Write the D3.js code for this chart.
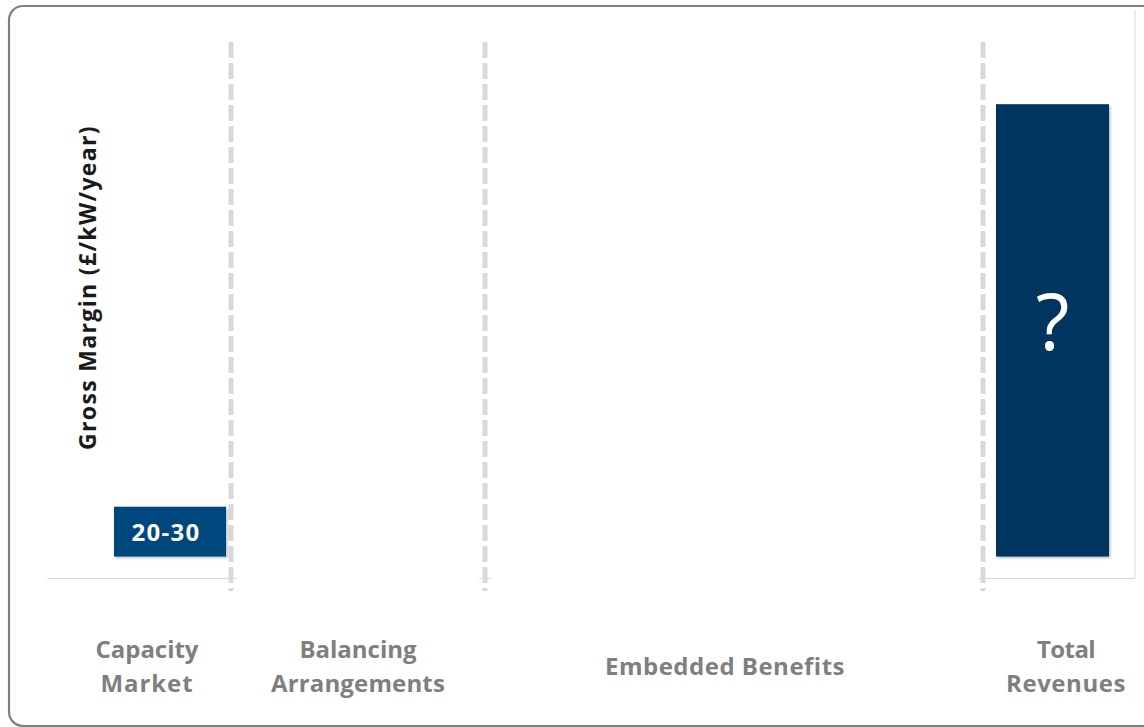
<!DOCTYPE html>
<html>
<head>
<meta charset="utf-8">
<script src="https://cdn.jsdelivr.net/npm/d3@7"></script>
<style>
html,body{margin:0;padding:0;background:#fff;}
svg{display:block;}
</style>
</head>
<body>
<svg id="chart" width="1144" height="727"></svg>
<script>
// ---- data ----
const categories = ["Capacity Market", "Balancing Arrangements", "Embedded Benefits", "Total Revenues"];
const categoryLines = [["Capacity", "Market"], ["Balancing", "Arrangements"], ["Embedded Benefits"], ["Total", "Revenues"]];
const barCategories = ["Capacity Market", "Total Revenues"];
const barLow = [4, 4];
const barHigh = [13.3, 88.4];
const barLabels = ["20-30", "?"];
const yLabel = "Gross Margin (£/kW/year)";

// ---- layout ----
const svg = d3.select("#chart");
const plot = {left: 47, right: 1135, top: 42, bottom: 578};
const FONT = "'Open Sans', Lato, sans-serif";

const zoneWidths = [184, 254, 498, 152];
const zoneEdges = [0];
zoneWidths.forEach(w => zoneEdges.push(zoneEdges[zoneEdges.length - 1] + w));
const x = d3.scaleLinear().domain([0, zoneEdges[zoneEdges.length - 1]]).range([plot.left, plot.right]);
const y = d3.scaleLinear().domain([0, 100]).range([plot.bottom, plot.top]);

function fit(sel, target) {
  const w = sel.node().getComputedTextLength();
  const n = sel.text().length;
  if (n > 1) sel.attr("letter-spacing", ((target - w) / n).toFixed(2));
}

// border
svg.append("rect").attr("x", 9).attr("y", 6).attr("width", 1170).attr("height", 720)
  .attr("rx", 14).attr("ry", 14).attr("fill", "none").attr("stroke", "#7f7f7f").attr("stroke-width", 2.2);

// right frame line
svg.append("line").attr("x1", plot.right).attr("x2", plot.right).attr("y1", 10).attr("y2", plot.bottom)
  .attr("stroke", "#d9d9d9").attr("stroke-width", 1);

// baseline segments
const bl = (a, b) => svg.append("line").attr("x1", a).attr("x2", b)
  .attr("y1", plot.bottom + 0.5).attr("y2", plot.bottom + 0.5).attr("stroke", "#d9d9d9").attr("stroke-width", 1);
bl(plot.left, x(zoneEdges[1]) + 6);
bl(x(zoneEdges[2]) - 6, x(zoneEdges[2]) + 6);
bl(x(zoneEdges[3]) - 4, plot.right);

// dashed dividers
svg.selectAll("line.div").data(zoneEdges.slice(1, 4)).enter().append("line")
  .attr("class", "div")
  .attr("x1", d => x(d)).attr("x2", d => x(d))
  .attr("y1", plot.top).attr("y2", 591)
  .attr("stroke", "#d9d9d9").attr("stroke-width", 5)
  .attr("stroke-dasharray", "16 5");

// y label
const yl = svg.append("text")
  .attr("transform", `translate(96,${(125 + 450) / 2}) rotate(-90)`)
  .attr("text-anchor", "middle")
  .attr("font-family", FONT)
  .attr("font-weight", "bold").attr("font-size", 23).attr("fill", "#1a1a1a")
  .text(yLabel);
fit(yl, 325);

// bars
const barGeom = {"Capacity Market": {x0: 67, x1: 179}, "Total Revenues": {x0: 949, x1: 1062}};
const barColors = ["#00477d", "#003660"];
const defs = svg.append("defs");
const f = defs.append("filter").attr("id", "sh").attr("x", "-5%").attr("y", "-5%").attr("width", "115%").attr("height", "115%");
f.append("feDropShadow").attr("dx", 1.5).attr("dy", 1.5).attr("stdDeviation", 1.2).attr("flood-color", "#000").attr("flood-opacity", 0.25);

const bars = barCategories.map((c, i) => ({c, lo: barLow[i], hi: barHigh[i], label: barLabels[i], color: barColors[i]}));
svg.selectAll("rect.bar").data(bars).enter().append("rect")
  .attr("class", "bar")
  .attr("x", d => x(barGeom[d.c].x0))
  .attr("width", d => x(barGeom[d.c].x1) - x(barGeom[d.c].x0))
  .attr("y", d => y(d.hi))
  .attr("height", d => y(d.lo) - y(d.hi))
  .attr("fill", d => d.color)
  .attr("filter", "url(#sh)");

const t1 = svg.append("text")
  .attr("x", (x(barGeom["Capacity Market"].x0) + x(barGeom["Capacity Market"].x1)) / 2 - 4)
  .attr("y", (y(barLow[0]) + y(barHigh[0])) / 2 + 9)
  .attr("text-anchor", "middle")
  .attr("font-family", FONT)
  .attr("font-weight", "bold").attr("font-size", 24).attr("fill", "#fff")
  .text(barLabels[0]);
fit(t1, 69);

svg.append("text")
  .attr("x", (x(barGeom["Total Revenues"].x0) + x(barGeom["Total Revenues"].x1)) / 2)
  .attr("y", 350)
  .attr("text-anchor", "middle")
  .attr("font-family", FONT)
  .attr("font-size", 78).attr("fill", "#fff")
  .text(barLabels[1]);

// category labels
const labelCenters = [147, 358, 725, 1066];
const lineWidths = [[103, 93], [117, 174], [240], [58, 120]];
categories.forEach((c, i) => {
  const lines = categoryLines[i];
  const startY = lines.length === 2 ? 658 : 675;
  lines.forEach((ln, j) => {
    const t = svg.append("text")
      .attr("x", labelCenters[i]).attr("y", startY + j * 34)
      .attr("text-anchor", "middle")
      .attr("font-family", FONT)
      .attr("font-weight", "bold").attr("font-size", 24).attr("fill", "#7f7f7f")
      .text(ln);
    fit(t, lineWidths[i][j]);
  });
});
</script>
</body>
</html>
